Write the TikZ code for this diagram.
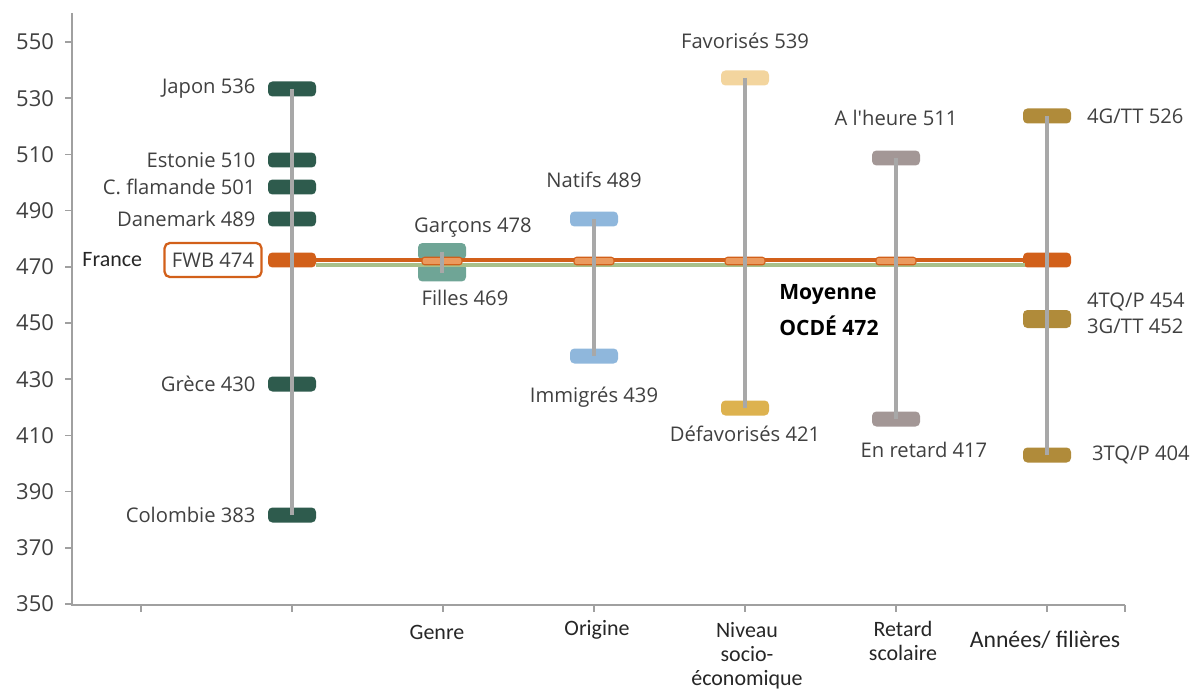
\documentclass[tikz,border=0pt]{standalone}
\usepackage{fontspec}
\setmainfont{Open Sans}
\newfontfamily\calibri{Carlito}
\usetikzlibrary{positioning}

\definecolor{pays}{HTML}{2E5B4D}
\definecolor{genre}{HTML}{6FA596}
\definecolor{origine}{HTML}{8FB7DC}
\definecolor{favo}{HTML}{F3D59E}
\definecolor{defavo}{HTML}{DDB24F}
\definecolor{retard}{HTML}{A39796}
\definecolor{annee}{HTML}{B08B3A}
\definecolor{orangefwb}{HTML}{D2601A}
\definecolor{orangeclair}{HTML}{EB9A5E}
\definecolor{vertocde}{HTML}{A9C08A}
\definecolor{grislien}{HTML}{A8A8A8}
\definecolor{grisaxe}{HTML}{A0A0A0}
\definecolor{texte}{HTML}{404040}

\begin{document}
\begin{tikzpicture}[
    x=0.02cm, y=-0.02cm,
    bar/.style={rounded corners=2.5pt, inner sep=0pt,
      minimum width=0.96cm, minimum height=0.3cm},
    marque/.style={fill=orangeclair, draw=orangefwb, line width=0.6pt,
      rounded corners=1.5pt, inner sep=0pt,
      minimum width=0.8cm, minimum height=0.15cm},
    lien/.style={draw=grislien, line width=2pt},
    axe/.style={draw=grisaxe, line width=0.85pt},
    lbl/.style={font=\fontsize{11.5}{13}\selectfont, text=texte, inner sep=1pt},
    cat/.style={font=\calibri\fontsize{12.5}{13.7}\selectfont, text=black!85,
      align=center, inner sep=0pt},
  ]
  \useasboundingbox (0,0) rectangle (1199,689);

  % axes
  \draw[axe] (72,13) -- (72,605) -- (1125,605);
  \foreach \v in {350,370,...,550}{
    \draw[axe] (65,{42+(550-\v)*2.81}) -- (72,{42+(550-\v)*2.81});
    \node[lbl, anchor=east, font=\fontsize{12.5}{14}\selectfont] (y\v)
      at (56,{42+(550-\v)*2.81}) {\v};
  }
  \foreach \x in {141,292,443,594,745,896,1047,1125}
    \draw[axe] (\x,605) -- (\x,612);

  % pays
  \node[bar, fill=pays] (japon) at (292,89) {};
  \node[bar, fill=pays] (estonie) at (292,160) {};
  \node[bar, fill=pays] (flamande) at (292,187) {};
  \node[bar, fill=pays] (danemark) at (292,219) {};
  \node[bar, fill=orangefwb] (france) at (292,260) {};
  \node[bar, fill=pays] (grece) at (292,384) {};
  \node[bar, fill=pays] (colombie) at (292,515) {};

  % genre
  \node[bar, fill=genre, minimum height=0.34cm] (garcons) at (442,251.5) {};
  \node[bar, fill=genre, minimum height=0.36cm] (filles) at (442,272.5) {};
  % origine
  \node[bar, fill=origine] (natifs) at (594,219) {};
  \node[bar, fill=origine] (immigres) at (594,356) {};
  % niveau socio-economique
  \node[bar, fill=favo] (favo) at (745,78) {};
  \node[bar, fill=defavo] (defavo) at (745,408) {};
  % retard scolaire
  \node[bar, fill=retard] (heure) at (896,158) {};
  \node[bar, fill=retard] (enretard) at (896,419) {};
  % annees / filieres
  \node[bar, fill=annee] (qgtt) at (1047,116) {};
  \node[bar, fill=annee, minimum height=0.36cm] (qtqp) at (1047,319) {};
  \node[bar, fill=annee] (ttqp) at (1047,455) {};
  \node[bar, fill=orangefwb] (fwbannee) at (1047,260) {};

  % moyennes OCDE et FWB
  \coordinate (ocdeA) at (316,265);
  \coordinate (ocdeB) at (1025,265);
  \draw[vertocde, line width=2pt] (ocdeA) -- (ocdeB);
  \draw[orangefwb, line width=2.2pt] (france.center) -- (fwbannee.center);
  \foreach \x/\n in {442/mg,594/mo,745/mn,896/mr}
    \node[marque] (\n) at (\x,261) {};

  % traits gris
  \draw[lien] (japon.center) -- (colombie.center);
  \draw[lien] (garcons.center) -- (filles.center);
  \draw[lien] (natifs.center) -- (immigres.center);
  \draw[lien] (favo.center) -- (defavo.center);
  \draw[lien] (heure.center) -- (enretard.center);
  \draw[lien] (qgtt.center) -- (ttqp.center);

  % etiquettes des pays
  \node[lbl, left=0.2cm of japon] (ljapon) {Japon 536};
  \node[lbl, left=0.2cm of estonie] (lestonie) {Estonie 510};
  \node[lbl, left=0.2cm of flamande] (lflamande) {C. flamande 501};
  \node[lbl, left=0.2cm of danemark] (ldanemark) {Danemark 489};
  \node[lbl, left=0.2cm of grece] (lgrece) {Grèce 430};
  \node[lbl, left=0.2cm of colombie] (lcolombie) {Colombie 383};
  \node[lbl, draw=orangefwb, line width=1.3pt, rounded corners=3pt,
    minimum width=1.94cm, minimum height=0.68cm, left=0.1cm of france] (fwb) {FWB 474};
  \node[cat, left=0.42cm of fwb] (lfrance) {France};

  % etiquettes des groupes
  \node[lbl] (lgarcons) at (473,228) {Garçons 478};
  \node[lbl] (lfilles) at (465,298) {Filles 469};
  \node[lbl] (lnatifs) at (594,180) {Natifs 489};
  \node[lbl] (limmigres) at (594,397) {Immigrés 439};
  \node[lbl] (lfavo) at (745,41) {Favorisés 539};
  \node[lbl] (ldefavo) at (745,434) {Défavorisés 421};
  \node[lbl] (lheure) at (896,118) {A l\textquotesingle heure 511};
  \node[lbl] (lenretard) at (924,450) {En retard 417};
  \node[lbl, anchor=west] (lqgtt) at (1085,116) {4G/TT 526};
  \node[lbl, anchor=west] (lqtqp) at (1085,302) {4TQ/P 454};
  \node[lbl, anchor=west] (ltgtt) at (1085,326) {3G/TT 452};
  \node[lbl, anchor=west] (lttqp) at (1090,455) {3TQ/P 404};
  \node[font=\bfseries\fontsize{12}{20.5}\selectfont, align=left, anchor=west,
    inner sep=0pt] (ocde) at (779,310) {Moyenne\\OCDÉ 472};

  % categories
  \node[cat] (cgenre) at (437,632) {Genre};
  \node[cat] (corigine) at (597,630) {Origine};
  \node[cat] (cniveau) at (747,656) {Niveau\\socio-\\économique};
  \node[cat] (cretard) at (903,641) {Retard\\scolaire};
  \node[cat, font=\calibri\fontsize{13.5}{15}\selectfont] (cannee) at (1045,640) {Années/ filières};
\end{tikzpicture}
\end{document}
